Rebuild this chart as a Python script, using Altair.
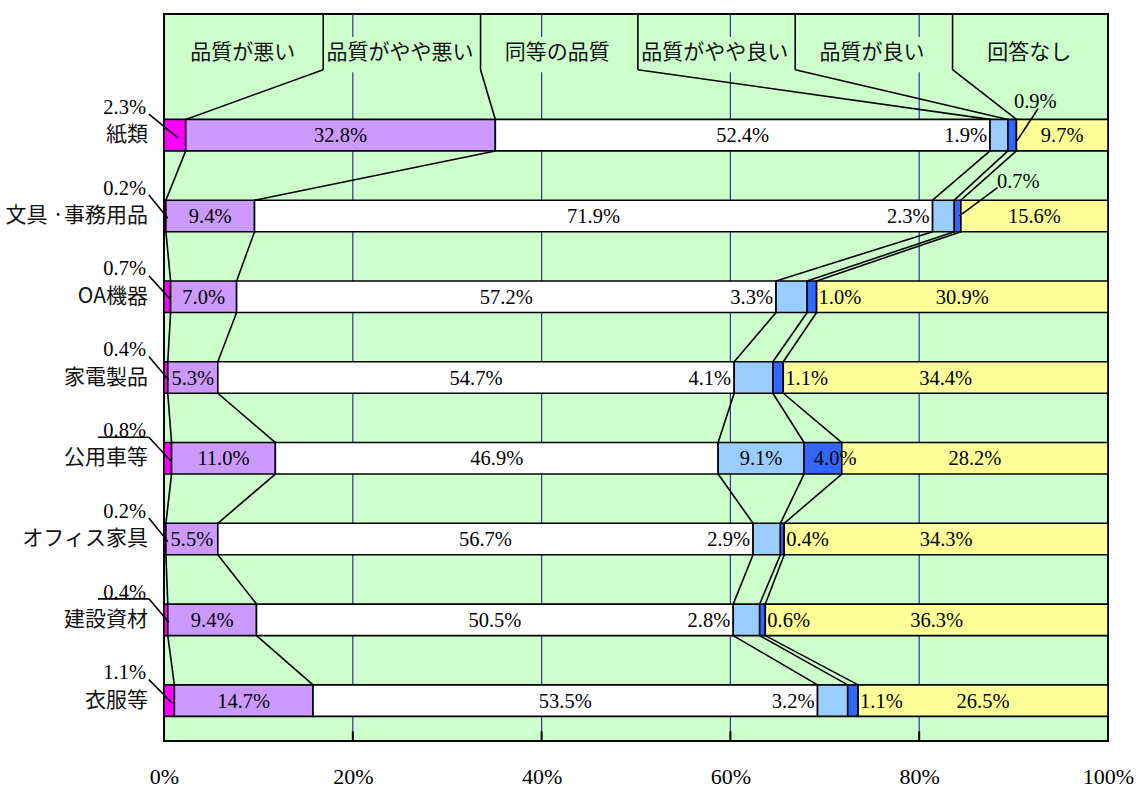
import altair as alt
import pandas as pd

# ---------------- data ----------------
categories = ["紙類", "文具 ·事務用品", "OA機器", "家電製品", "公用車等", "オフィス家具", "建設資材", "衣服等"]
series = ["品質が悪い", "品質がやや悪い", "同等の品質", "品質がやや良い", "品質が良い", "回答なし"]
bad = [2.3, 0.2, 0.7, 0.4, 0.8, 0.2, 0.4, 1.1]
somewhat_bad = [32.8, 9.4, 7.0, 5.3, 11.0, 5.5, 9.4, 14.7]
same = [52.4, 71.9, 57.2, 54.7, 46.9, 56.7, 50.5, 53.5]
somewhat_good = [1.9, 2.3, 3.3, 4.1, 9.1, 2.9, 2.8, 3.2]
good = [0.9, 0.7, 1.0, 1.1, 4.0, 0.4, 0.6, 1.1]
no_answer = [9.7, 15.6, 30.9, 34.4, 28.2, 34.3, 36.3, 26.5]
x_ticks = [0, 20, 40, 60, 80, 100]
colors = ["#FF00FF", "#CC99FF", "#FFFFFF", "#99CCFF", "#3366FF", "#FFFF99"]

series_values = [bad, somewhat_bad, same, somewhat_good, good, no_answer]

# ---------------- layout (not data) ----------------
H = 0.195            # half bar height in row units
SERIF = "Liberation Serif"
SANS = "Noto Sans CJK JP"
FS = 20.5
FS_JP = 21
FS_AXIS = 22
underlined_rows = [4, 6]
good_callouts = {
    0: dict(tx=92.3, ty=-0.42, sx=92.6, sy=-0.33, ex=0.5, ey=0.07),
    1: dict(tx=90.5, ty=-0.43, sx=88.3, sy=-0.35, ex=0.2, ey=0.0),
}

seg_rows, bounds = [], []
for i, cat in enumerate(categories):
    vals = [s[i] for s in series_values]
    tot = sum(vals)
    yc = i + 1.5
    cum = 0.0
    b = [0.0]
    for k, v in enumerate(vals):
        x0 = cum / tot * 100
        cum += v
        x1 = min(cum / tot * 100, 100)
        b.append(x1)
        seg_rows.append(dict(cat=cat, series=series[k], x0=x0, x1=x1, y0=yc - H, y1=yc + H, v=v, k=k, i=i, yc=yc))
    bounds.append(b)
seg = pd.DataFrame(seg_rows)

# labels
lab_c, lab_l, lab_r, leaders = [], [], [], []
for r in seg_rows:
    i, k, yc = r["i"], r["k"], r["yc"]
    t = f"{r['v']:.1f}%"
    mid = (r["x0"] + r["x1"]) / 2
    if k == 0:
        lab_r.append(dict(x=-1.9, y=yc - 0.35, t=t, dx=0))
        leaders.append(dict(x=-1.6, y=yc - 0.26, x2=max(mid + 0.3, 0.4), y2=yc + 0.03))
        if i in underlined_rows:
            leaders.append(dict(x=-7.0, y=yc - 0.26, x2=-1.6, y2=yc - 0.26))
    elif k in (1, 2, 5):
        lab_c.append(dict(x=mid, y=yc, t=t, dx=0))
    elif k == 3:
        if i == 4:
            lab_c.append(dict(x=mid, y=yc, t=t, dx=0))
        else:
            lab_r.append(dict(x=r["x0"], y=yc, t=t, dx=-3))
    elif k == 4:
        if i in good_callouts:
            c = good_callouts[i]
            lab_c.append(dict(x=c["tx"], y=yc + c["ty"], t=t, dx=0))
            leaders.append(dict(x=c["sx"], y=yc + c["sy"], x2=mid + c["ex"], y2=yc + c["ey"]))
        elif i == 4:
            lab_c.append(dict(x=mid + 1.3, y=yc, t=t, dx=0))
        else:
            lab_l.append(dict(x=r["x1"], y=yc, t=t, dx=2))

# connectors between rows
conn = []
for i in range(len(categories) - 1):
    for k in range(1, 6):
        conn.append(dict(x=bounds[i][k], y=i + 1.5 + H, x2=bounds[i + 1][k], y2=i + 2.5 - H))
# header separators and diagonals to first bar
cell = 100 / 6
for j in range(1, 6):
    sx = j * cell + 0.2
    conn.append(dict(x=sx, y=0, x2=sx, y2=0.69))
    conn.append(dict(x=sx, y=0.69, x2=bounds[0][j], y2=1.5 - H))

header = pd.DataFrame([dict(x=(j + 0.5) * cell, y=0.48, t=series[j]) for j in range(6)])
boxes = pd.DataFrame([dict(x=j * cell + 1.0, x2=(j + 1) * cell - 1.0, y=0.285, y2=0.72) for j in range(6)])
cats = pd.DataFrame([dict(x=-1.7, y=i + 1.5, t=c) for i, c in enumerate(categories)])
grid = pd.DataFrame([dict(x=v, y=0, y2=9) for v in x_ticks[1:-1]])
ticks = pd.DataFrame([dict(x=v, y=8.88, y2=9) for v in x_ticks[1:-1]])

xs = alt.Scale(domain=[0, 100], nice=False, zero=False)
ys = alt.Scale(domain=[0, 9], nice=False, zero=False, reverse=True)

xaxis = alt.Axis(values=x_ticks, labelExpr="datum.value + '%'", grid=False, domain=False, ticks=False,
                 labelFont=SERIF, labelFontSize=FS_AXIS, labelColor="black", labelPadding=25, title=None,
                 labelFlush=False, labelOverlap=False)


def X(f="x"):
    return alt.X(f"{f}:Q", scale=xs, axis=xaxis)


def Y(f="y"):
    return alt.Y(f"{f}:Q", scale=ys, axis=None)


grid_l = alt.Chart(grid).mark_rule(color="#333399", strokeWidth=1.2).encode(
    x=X("x"), y=Y("y"), y2="y2")
box_l = alt.Chart(boxes).mark_rect(color="#CCFFCC").encode(x=X("x"), x2="x2", y=Y("y"), y2="y2")
conn_l = alt.Chart(pd.DataFrame(conn)).mark_rule(color="black", strokeWidth=1.6).encode(
    x=X("x"), x2="x2", y=Y("y"), y2="y2")
lead_l = alt.Chart(pd.DataFrame(leaders)).mark_rule(color="black", strokeWidth=1.6).encode(
    x=X("x"), x2="x2", y=Y("y"), y2="y2")
bar_l = alt.Chart(seg).mark_rect(stroke="black", strokeWidth=1.6).encode(
    x=X("x0"), x2="x1", y=Y("y0"), y2="y1",
    color=alt.Color("series:N", scale=alt.Scale(domain=series, range=colors), legend=None))
tick_l = alt.Chart(ticks).mark_rule(color="black", strokeWidth=2).encode(x=X("x"), y=Y("y"), y2="y2")


def txt2(df, align):
    layers = []
    d = pd.DataFrame(df)
    for dx, g in d.groupby("dx"):
        layers.append(alt.Chart(g).mark_text(
            align=align, baseline="middle", font=SERIF, fontSize=FS, color="black", dx=float(dx), dy=1).encode(
            x=X("x"), y=Y("y"), text="t:N"))
    return layers


head_l = alt.Chart(header).mark_text(align="center", baseline="middle", font=SANS, fontSize=FS_JP,
                                     color="#111111").encode(x=X("x"), y=Y("y"), text="t:N")
cat_l = alt.Chart(cats).mark_text(align="right", baseline="middle", font=SANS, fontSize=FS_JP,
                                  color="#111111").encode(x=X("x"), y=Y("y"), text="t:N")

layers = [grid_l, box_l, conn_l, bar_l, lead_l, tick_l, head_l, cat_l]
layers += txt2(lab_c, "center") + txt2(lab_l, "left") + txt2(lab_r, "right")

chart = alt.layer(*layers).properties(
    width=944, height=727,
    autosize=alt.AutoSizeParams(type="none"),
    padding={"left": 164, "top": 14, "right": 28, "bottom": 48},
    background="white",
).configure_view(fill="#CCFFCC", stroke="black", strokeWidth=2)

chart.save("out.html", embed_options={"renderer": "svg", "actions": False})
